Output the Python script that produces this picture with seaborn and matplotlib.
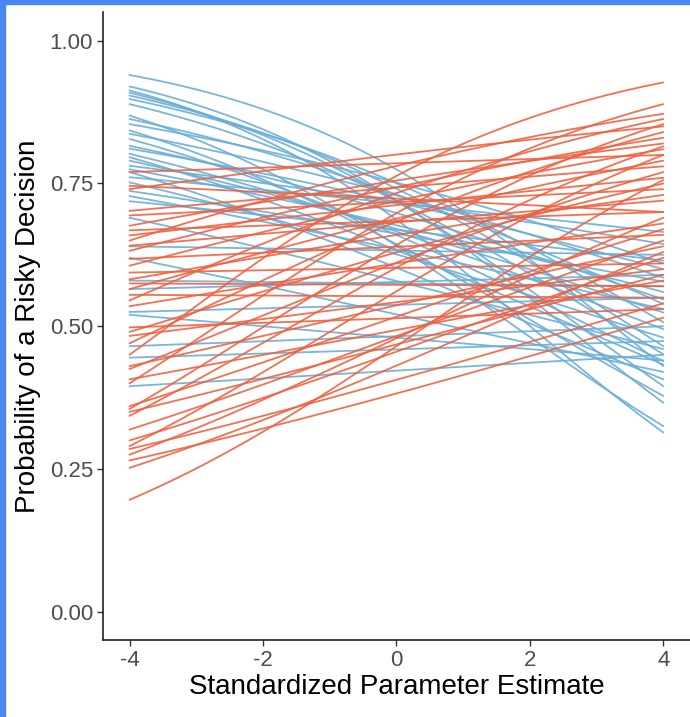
import numpy as np
import pandas as pd
import seaborn as sns
import matplotlib.pyplot as plt
from matplotlib.patches import Rectangle

# --- values: probability at x=-4 and at x=4 for each curve ---
blue_start = [0.940, 0.920, 0.913, 0.909, 0.904, 0.898, 0.889, 0.869, 0.863, 0.854,
              0.843, 0.837, 0.828, 0.816, 0.811, 0.802, 0.796, 0.790, 0.781, 0.775,
              0.770, 0.761, 0.752, 0.737, 0.728, 0.719, 0.690, 0.640, 0.620, 0.580,
              0.565, 0.525, 0.520, 0.465, 0.445, 0.395]
blue_end = [0.430, 0.366, 0.314, 0.395, 0.465, 0.507, 0.451, 0.325, 0.539, 0.610,
            0.378, 0.585, 0.439, 0.547, 0.600, 0.495, 0.433, 0.524, 0.644, 0.560,
            0.407, 0.665, 0.480, 0.578, 0.530, 0.615, 0.460, 0.625, 0.420, 0.570,
            0.590, 0.550, 0.440, 0.500, 0.474, 0.450]

red_start = [0.770, 0.746, 0.740, 0.702, 0.694, 0.676, 0.668, 0.659, 0.650, 0.641,
             0.632, 0.618, 0.606, 0.594, 0.582, 0.575, 0.565, 0.555, 0.545, 0.535,
             0.498, 0.490, 0.483, 0.470, 0.450, 0.430, 0.425, 0.407, 0.400, 0.360,
             0.355, 0.350, 0.343, 0.319, 0.300, 0.290, 0.285, 0.275, 0.265, 0.252,
             0.196]
red_end = [0.800, 0.700, 0.850, 0.780, 0.740, 0.820, 0.700, 0.760, 0.872, 0.720,
           0.830, 0.660, 0.810, 0.610, 0.730, 0.570, 0.790, 0.550, 0.863, 0.680,
           0.530, 0.750, 0.600, 0.840, 0.927, 0.640, 0.770, 0.580, 0.889, 0.670,
           0.854, 0.590, 0.815, 0.650, 0.620, 0.800, 0.540, 0.690, 0.515, 0.630,
           0.756]

x_ticks = [-4, -2, 0, 2, 4]
y_ticks = [0.00, 0.25, 0.50, 0.75, 1.00]

# --- logistic curves through the two end points ---
def logit(p):
    return np.log(p / (1 - p))

xs = np.linspace(-4, 4, 81)
rows = []
for grp, starts, ends in [('neg', blue_start, blue_end), ('pos', red_start, red_end)]:
    for i, (s, e) in enumerate(zip(starts, ends)):
        a = (logit(s) + logit(e)) / 2
        b = (logit(e) - logit(s)) / 8
        p = 1 / (1 + np.exp(-(a + b * xs)))
        rows.append(pd.DataFrame({'x': xs, 'p': p, 'curve': f'{grp}{i}', 'group': grp}))
df = pd.concat(rows, ignore_index=True)

# --- plot ---
sns.set_style('white')
plt.rcParams['font.family'] = ['Liberation Sans', 'DejaVu Sans']

fig = plt.figure(figsize=(6.9, 7.17), dpi=100)
ax = fig.add_axes([0.149, 0.107, 0.851, 0.876])

sns.lineplot(data=df, x='x', y='p', hue='group', units='curve', estimator=None,
             palette={'neg': '#6aaed6', 'pos': '#f2603f'}, linewidth=1.3,
             alpha=0.9, legend=False, ax=ax)

ax.set_xlim(-4.4, 4.4)
ax.set_ylim(-0.05, 1.05)
ax.set_xticks(x_ticks)
ax.set_xticklabels([str(t) for t in x_ticks])
ax.set_yticks(y_ticks)
ax.set_yticklabels([f'{t:.2f}' for t in y_ticks])
ax.tick_params(axis='both', direction='out', length=4, width=1, color='#333333',
               labelsize=16, labelcolor='#4d4d4d', left=True, bottom=True, pad=3)
for side in ['top', 'right']:
    ax.spines[side].set_visible(False)
for side in ['left', 'bottom']:
    ax.spines[side].set_color('#222222')
    ax.spines[side].set_linewidth(1.2)
ax.set_xlabel('Standardized Parameter Estimate', fontsize=20, color='black', labelpad=2)
ax.set_ylabel('Probability of a Risky Decision', fontsize=20, color='black', labelpad=6)

# blue frame of the screenshot
fig.patches.append(Rectangle((0, 0), 5 / 690, 1, transform=fig.transFigure,
                             color='#4a86f0', zorder=10))
fig.patches.append(Rectangle((0, 1 - 4 / 717), 1, 4 / 717, transform=fig.transFigure,
                             color='#4a86f0', zorder=10))

fig.savefig('out.png', dpi=100)
